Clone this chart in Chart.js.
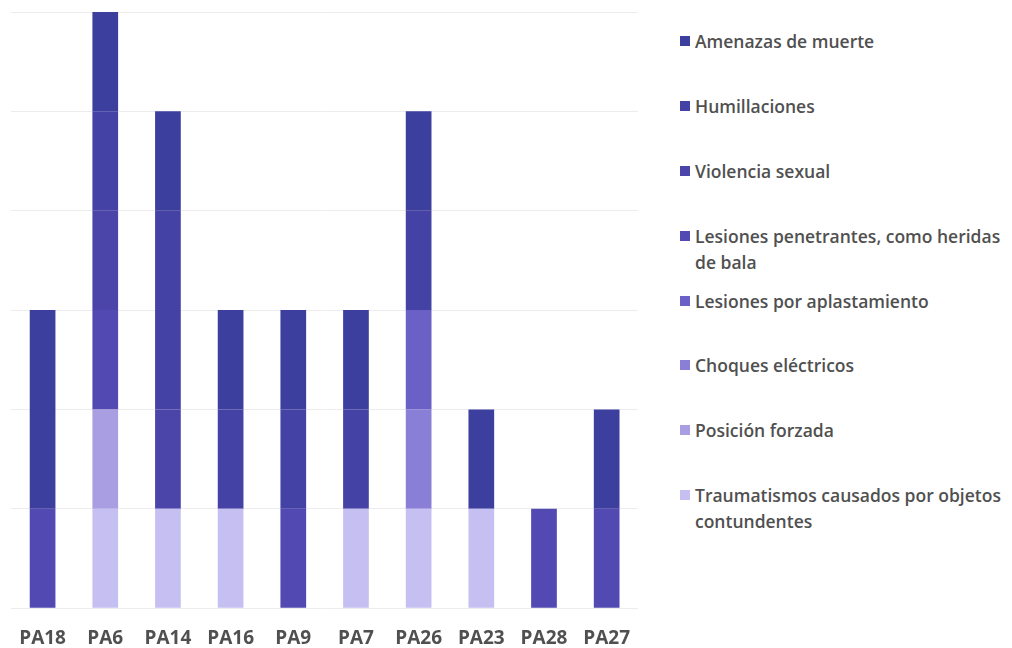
<!DOCTYPE html>
<html>
<head>
<meta charset="utf-8">
<script src="https://cdn.jsdelivr.net/npm/chart.js@4/dist/chart.umd.min.js"></script>
<style>
  body { margin: 0; background: #fff; width: 1012px; height: 648px; overflow: hidden; position: relative; font-family: "Open Sans", sans-serif; }
  #wrap { position: absolute; left: 0; top: 0; width: 650px; height: 671px; }
  #legend { position: absolute; left: 680px; top: 28px; width: 330px; margin: 0; padding: 0; list-style: none; }
  #legend li { height: 64.9px; display: flex; align-items: flex-start; font-size: 17.5px; font-weight: 600; color: #505050; line-height: 26px; }
  #legend .box { flex: 0 0 10px; height: 10px; margin: 8px 5px 0 0; }
</style>
</head>
<body>
<div id="wrap"><canvas id="chart"></canvas></div>
<ul id="legend"></ul>
<script>
const categories = ['PA18', 'PA6', 'PA14', 'PA16', 'PA9', 'PA7', 'PA26', 'PA23', 'PA28', 'PA27'];

// stacked bottom to top
const seriesNames = [
  'Traumatismos causados por objetos contundentes',
  'Posición forzada',
  'Choques eléctricos',
  'Lesiones por aplastamiento',
  'Lesiones penetrantes, como heridas de bala',
  'Violencia sexual',
  'Humillaciones',
  'Amenazas de muerte'
];
const traumatismos = [0, 1, 1, 1, 0, 1, 1, 1, 0, 0];
const posicionForzada = [0, 1, 0, 0, 0, 0, 0, 0, 0, 0];
const choquesElectricos = [0, 0, 0, 0, 0, 0, 1, 0, 0, 0];
const aplastamiento = [0, 0, 0, 0, 0, 0, 1, 0, 0, 0];
const penetrantes = [1, 1, 0, 0, 1, 0, 0, 0, 1, 1];
const violenciaSexual = [0, 1, 1, 0, 0, 0, 0, 0, 0, 0];
const humillaciones = [0, 1, 2, 1, 1, 1, 1, 0, 0, 0];
const amenazas = [2, 1, 1, 1, 1, 1, 1, 1, 0, 1];

const seriesValues = [traumatismos, posicionForzada, choquesElectricos, aplastamiento,
  penetrantes, violenciaSexual, humillaciones, amenazas];
const seriesColors = ['#c6c0f2', '#a99ee2', '#897fd6', '#6a60c6', '#5249b2', '#4b45aa', '#4542a6', '#3c3f9e'];

const datasets = seriesNames.map((name, i) => ({
  label: name,
  data: seriesValues[i],
  backgroundColor: seriesColors[i],
  borderWidth: 0,
  barPercentage: 0.41,
  categoryPercentage: 1
}));

const chart = new Chart(document.getElementById('chart'), {
  type: 'bar',
  data: { labels: categories, datasets },
  options: {
    responsive: true,
    maintainAspectRatio: false,
    animation: false,
    layout: { padding: { left: 4, right: 12, top: 12, bottom: 2 } },
    plugins: { legend: { display: false }, tooltip: { enabled: false } },
    scales: {
      x: {
        stacked: true,
        grid: { display: false, drawTicks: false },
        border: { display: false },
        ticks: { padding: 19, color: '#505050', font: { family: 'Open Sans', size: 19, weight: '700' } }
      },
      y: {
        stacked: true,
        min: 0, max: 6,
        grid: { color: '#ececec', drawTicks: false },
        border: { display: false },
        ticks: { display: false, stepSize: 1 }
      }
    }
  }
});

// legend, top of stack first
const legend = document.getElementById('legend');
legend.innerHTML = datasets.slice().reverse().map(d =>
  `<li><span class="box" style="background:${d.backgroundColor}"></span><span>${d.label}</span></li>`
).join('');
</script>
</body>
</html>
